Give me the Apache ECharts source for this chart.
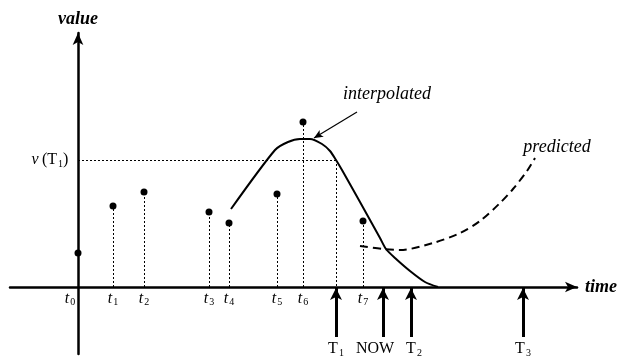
<!DOCTYPE html>
<html>
<head>
<meta charset="utf-8">
<script src="https://cdn.jsdelivr.net/npm/echarts@6/dist/echarts.min.js"></script>
<style>
  html, body { margin: 0; padding: 0; background: #fff; }
  #chart { width: 618px; height: 356px; }
</style>
</head>
<body>
<div id="chart"></div>
<script>
// samples t0..t7 (time, value)
const sampleNames = ['0', '1', '2', '3', '4', '5', '6', '7'];
const sampleTimes = [0, 3.5, 6.6, 13.1, 15.1, 19.9, 22.5, 28.5];
const sampleValues = [3.4, 8.1, 9.5, 7.5, 6.4, 9.3, 16.5, 6.6];

// interpolated curve
const interpTimes = [15.3, 19.7, 21.0, 22.2, 23.2, 24.4, 25.2, 25.8, 26.4, 28.2, 30.2, 30.8, 31.7, 33.2, 34.7, 36.0];
const interpValues = [7.8, 13.7, 14.5, 14.8, 14.8, 14.3, 13.6, 12.7, 11.7, 8.5, 4.9, 3.8, 2.9, 1.6, 0.5, 0];

// predicted curve (dashed)
const predTimes = [28.2, 30.5, 32.2, 35.5, 38.2, 40.2, 42.2, 43.5, 44.9, 45.7];
const predValues = [4.1, 3.8, 3.7, 4.4, 5.4, 6.6, 8.4, 9.8, 11.6, 12.9];

// query instants marked under the time axis
const markerNames = ['T1', 'NOW', 'T2', 'T3'];
const markerTimes = [25.8, 30.5, 33.3, 44.5];

// value at T1
const valueT1 = 12.7;

const serif = "'Liberation Serif', 'Times New Roman', serif";

const zip = (xs, ys) => xs.map((x, i) => [x, ys[i]]);

const chart = echarts.init(document.getElementById('chart'));

const subRich = {
  t: { fontFamily: serif, fontStyle: 'italic', fontSize: 16, color: '#000' },
  r: { fontFamily: serif, fontSize: 16, color: '#000' },
  s: { fontFamily: serif, fontSize: 10, color: '#000', padding: [8, 0, 0, 1] }
};

const markerLabel = (name) => {
  if (name.length === 2 && name[0] === 'T') return '{r|T}{s|' + name[1] + '}';
  return '{r|' + name + '}';
};

// NOW label sits a little left of its arrow, T2 a little right
const markerLabelShift = { NOW: -8, T2: 3 };

// t labels just under the axis (t0 sits left of the value axis)
const tickLabelData = sampleTimes.map((t, i) => [i === 0 ? t - 0.8 : t, -1.15]);

// invisible scatter used only to carry a text label
const textSeries = (name, data, formatter, extra) => Object.assign({
  name: name,
  type: 'scatter',
  data: data,
  symbolSize: 1,
  itemStyle: { color: 'transparent', opacity: 1 },
  silent: true,
  z: 5,
  label: Object.assign({
    show: true,
    position: 'inside',
    formatter: formatter,
    rich: subRich,
    color: '#000',
    opacity: 1
  }, extra || {})
});

const markerData = markerTimes.map((t, i) => ({
  value: [t, -6.2],
  label: { offset: [markerLabelShift[markerNames[i]] || 0, 0] }
}));

const option = {
  animation: false,
  grid: { left: 10, right: 41, top: 33, bottom: 2, containLabel: false, outerBoundsMode: 'none' },
  xAxis: {
    type: 'value',
    min: -6.8,
    max: 49.9,
    name: 'time',
    nameLocation: 'end',
    nameGap: 8,
    nameTextStyle: { fontFamily: serif, fontStyle: 'italic', fontWeight: 'bold', fontSize: 18, color: '#000' },
    axisLine: { onZero: true, symbol: ['none', 'arrow'], symbolSize: [8, 12], lineStyle: { color: '#000', width: 2.5 } },
    axisTick: { show: false },
    axisLabel: { show: false },
    splitLine: { show: false }
  },
  yAxis: {
    type: 'value',
    min: -6.7,
    max: 25.4,
    name: 'value',
    nameLocation: 'end',
    nameGap: 5,
    nameTextStyle: { fontFamily: serif, fontStyle: 'italic', fontWeight: 'bold', fontSize: 18, color: '#000' },
    axisLine: { onZero: true, symbol: ['none', 'arrow'], symbolSize: [8, 12], lineStyle: { color: '#000', width: 2.5 } },
    axisTick: { show: false },
    axisLabel: { show: false },
    splitLine: { show: false }
  },
  series: [
    {
      name: 'interpolated',
      type: 'line',
      data: zip(interpTimes, interpValues),
      smooth: 0.25,
      symbol: 'none',
      lineStyle: { color: '#000', width: 2 },
      silent: true,
      z: 3
    },
    {
      name: 'predicted',
      type: 'line',
      data: zip(predTimes, predValues),
      smooth: 0.3,
      symbol: 'none',
      lineStyle: { color: '#000', width: 2, type: [8, 5] },
      silent: true,
      z: 3
    },
    {
      name: 'samples',
      type: 'scatter',
      data: zip(sampleTimes, sampleValues),
      symbolSize: 7,
      itemStyle: { color: '#000', opacity: 1 },
      silent: true,
      z: 4,
      markLine: {
        silent: true,
        symbol: ['none', 'none'],
        label: { show: false },
        lineStyle: { color: '#000', width: 1, type: [2, 2], opacity: 1 },
        data: sampleTimes.slice(1).map((t, i) => [{ coord: [t, 0] }, { coord: [t, sampleValues[i + 1]] }])
          .concat([
            [{ coord: [0, valueT1] }, { coord: [markerTimes[0], valueT1] }],
            [{ coord: [markerTimes[0], valueT1] }, { coord: [markerTimes[0], 0] }]
          ])
      }
    },
    Object.assign(textSeries('markers', markerData, p => markerLabel(markerNames[p.dataIndex])), {
      markLine: {
        silent: true,
        label: { show: false },
        symbol: ['none', 'arrow'],
        symbolSize: [9, 12],
        lineStyle: { color: '#000', width: 3, type: 'solid', opacity: 1 },
        data: markerTimes.map(t => [{ coord: [t, -5.0] }, { coord: [t, -0.1] }])
      }
    }),
    textSeries('tick labels', tickLabelData, p => '{t|t}{s|' + sampleNames[p.dataIndex] + '}'),
    textSeries('value label', [[-2.8, valueT1]], () => '{t|v} {r|(T}{s|1}{r|)}'),
    Object.assign(textSeries('notes', [[30.9, 19.3], [47.9, 14.0]], p => ['interpolated', 'predicted'][p.dataIndex], {
      fontFamily: serif,
      fontStyle: 'italic',
      fontSize: 18
    }), {
      markLine: {
        silent: true,
        label: { show: false },
        symbol: ['none', 'arrow'],
        symbolSize: [6, 9],
        lineStyle: { color: '#000', width: 1.2, type: 'solid', opacity: 1 },
        data: [[{ coord: [27.9, 17.5] }, { coord: [23.6, 14.9] }]]
      }
    })
  ]
};

chart.setOption(option);
</script>
</body>
</html>
